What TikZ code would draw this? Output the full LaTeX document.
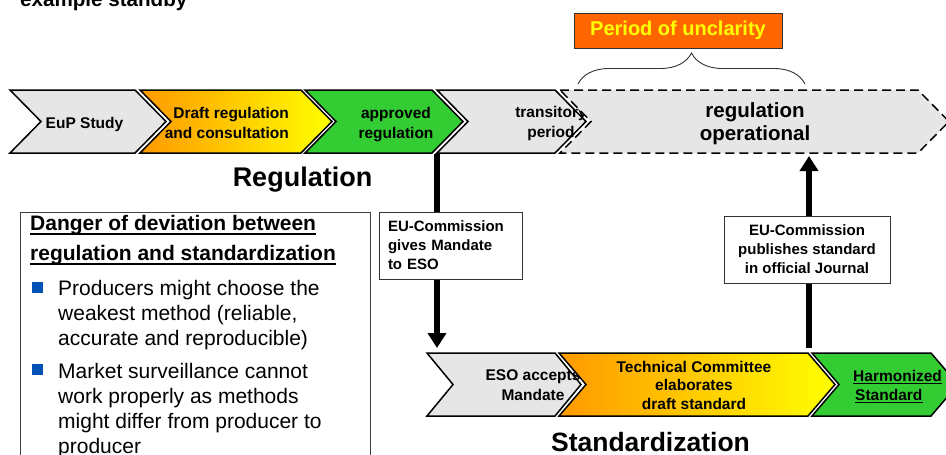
\documentclass[tikz,border=0pt]{standalone}
\usepackage{fontspec}
\setmainfont{Liberation Sans}
\usetikzlibrary{arrows.meta,decorations.pathreplacing}
\definecolor{chgrey}{HTML}{E6E6E6}
\definecolor{chgreen}{HTML}{33CC33}
\definecolor{chorange}{HTML}{FF9900}
\definecolor{chyellow}{HTML}{FFFF00}
\definecolor{unclear}{HTML}{FF6600}
\definecolor{bulblue}{HTML}{0052B4}
\newcommand{\chev}[6][]{%
  \path[chevron,#1] (#2,#4) -- (#3,#4) -- ({#3+#6},{(#4+#5)/2}) -- (#3,#5) -- (#2,#5) -- ({#2+#6},{(#4+#5)/2}) -- cycle;}
\begin{document}
\begin{tikzpicture}[x=1pt,y=-1pt,
  chevron/.style={draw=black, line width=1.5pt, line join=miter},
  dashedchev/.style={dash pattern=on 9pt off 5pt},
  lbl/.style={inner sep=0pt, anchor=base, align=center, font=\bfseries\fontsize{15.5}{19.5}\selectfont},
  bigtitle/.style={inner sep=0pt, anchor=base, font=\bfseries\fontsize{27}{32}\selectfont},
  infobox/.style={draw=black!80, line width=1pt, fill=white, inner ysep=0pt, font=\bfseries\fontsize{15}{19}\selectfont},
  bigarrow/.style={line width=6pt, -{Triangle[width=18pt,length=15pt]}},
  hd/.style={inner sep=0pt, anchor=base west, font=\bfseries\fontsize{21}{25}\selectfont},
  bl/.style={inner sep=0pt, anchor=base west, font=\fontsize{21}{25}\selectfont},
  ul/.style={line width=1.4pt}]
\clip (0,0) rectangle (946,455);
\fill[white] (0,0) rectangle (946,455);

\node[inner sep=0pt, anchor=base west, font=\bfseries\fontsize{20.6}{24}\selectfont] (title) at (20,6) {example standby};

% ---- regulation row (multi-line nodes: base = last line)
\chev[fill=chgrey]{10}{135}{90}{153}{31}
\node[lbl] (eup) at (84.5,128) {EuP Study};
\chev[left color=chorange, right color=chyellow]{140}{301}{90}{153}{31}
\node[lbl, align=right, anchor=base east] (draft) at (289,138) {Draft regulation\\and consultation};
\chev[fill=chgreen]{305}{432}{90}{153}{31}
\node[lbl] (appr) at (396,138) {approved\\regulation};
\chev[fill=chgrey]{437}{555}{90}{153}{31}
\node[lbl] (trans) at (551,137) {transitory\\period};
\chev[fill=chgrey, dashedchev]{560}{918}{90}{153}{31}
\node[lbl, font=\bfseries\fontsize{20.5}{23.5}\selectfont] (oper) at (755,140.5) {regulation\\operational};

% ---- period of unclarity
\node[draw=black!80, line width=0.8pt, fill=unclear, text=chyellow, inner sep=0pt,
      minimum width=208pt, minimum height=35pt, font=\bfseries\fontsize{20}{24}\selectfont]
      (unclar) at (678,30.5) {Period of unclarity};
\coordinate (braceL) at (578,84);
\coordinate (braceR) at (805,84);
\draw[draw=black!80, line width=0.9pt, decorate, decoration={brace, amplitude=31pt}] (braceL) -- (braceR);

\node[bigtitle] (reg) at (302.5,186.7) {Regulation};

% ---- standardization row
\chev[fill=chgrey]{427}{555}{353}{416}{26}
\node[lbl] (eso) at (533,400) {ESO accepts\\Mandate};
\chev[left color=chorange, right color=chyellow]{559}{808}{353}{416}{27}
\node[lbl, font=\bfseries\fontsize{15.5}{18.5}\selectfont] (tc) at (694,409) {Technical Committee\\elaborates\\draft standard};
\chev[fill=chgreen]{812}{931}{353}{416}{27}
\node[lbl, anchor=base west] (harm1) at (853,381) {Harmonized};
\node[lbl, anchor=base west] (harm2) at (855,400) {Standard};
\draw[ul] ([yshift=-2.5pt]harm1.base west) -- ([yshift=-2.5pt]harm1.base east);
\draw[ul] ([yshift=-2.5pt]harm2.base west) -- ([yshift=-2.5pt]harm2.base east);

\node[bigtitle, font=\bfseries\fontsize{26.5}{30}\selectfont] (std) at (650.5,451) {Standardization};

% ---- arrows and boxes
\coordinate (mandTop) at (437,154);
\coordinate (mandTip) at (437,348);
\draw[bigarrow] (mandTop) -- (mandTip);
\node[infobox, minimum width=143pt, minimum height=67pt, text width=125pt, inner xsep=9pt, align=left]
      (mand) at (450.5,245.5) {EU-Commission\\gives Mandate\\to ESO};

\coordinate (pubBot) at (809,348);
\coordinate (pubTip) at (809,156);
\draw[bigarrow] (pubBot) -- (pubTip);
\node[infobox, minimum width=166pt, minimum height=67pt, align=center]
      (pub) at (807,249.5) {EU-Commission\\publishes standard\\in official Journal};

% ---- danger panel
\draw[draw=black!75, line width=1pt] (20,212) rectangle (370,470);
\node[hd] (h1) at (30,230.5) {Danger of deviation between};
\node[hd] (h2) at (30,260.5) {regulation and standardization};
\draw[ul] ([yshift=-3.5pt]h1.base west) -- ([yshift=-3.5pt]h1.base east);
\draw[ul] ([yshift=-3.5pt]h2.base west) -- ([yshift=-3.5pt]h2.base east);
\fill[bulblue] (32,282) rectangle (43,293);
\node[bl] (a1) at (58,295) {Producers might choose the};
\node[bl] (a2) at (58,320) {weakest method (reliable,};
\node[bl] (a3) at (58,345) {accurate and reproducible)};
\fill[bulblue] (32,364) rectangle (43,375);
\node[bl] (b1) at (58,378) {Market surveillance cannot};
\node[bl] (b2) at (58,403) {work properly as methods};
\node[bl] (b3) at (58,428) {might differ from producer to};
\node[bl] (b4) at (58,453) {producer};
\end{tikzpicture}
\end{document}
